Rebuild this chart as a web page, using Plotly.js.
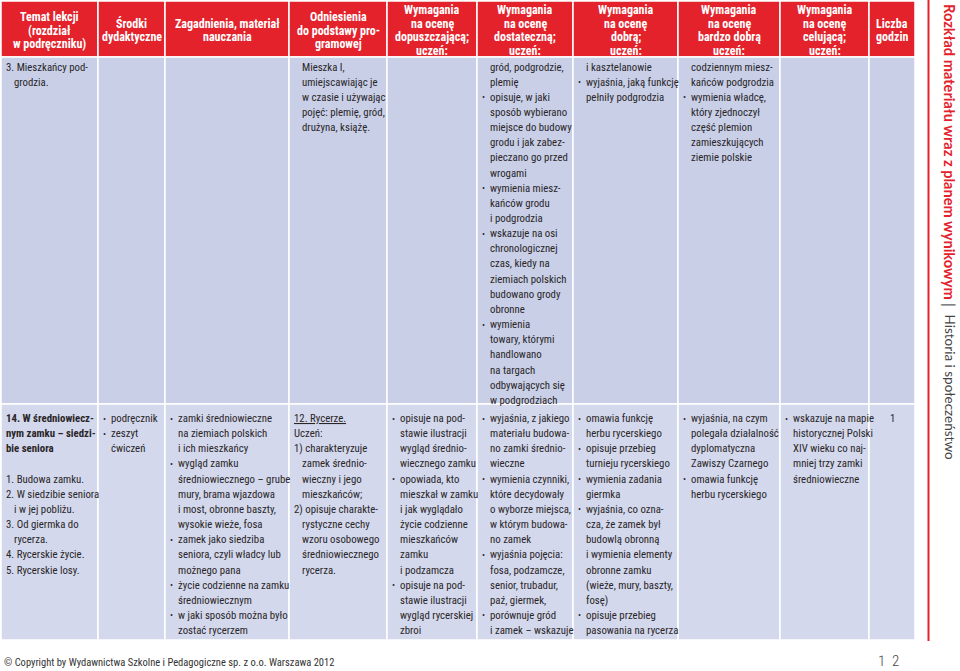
<!DOCTYPE html>
<html><head><meta charset="utf-8"><script src="https://cdn.plot.ly/plotly-3.0.1.min.js"></script></head>
<body style="margin:0;background:#fff">
<div id="c" style="width:960px;height:671px"></div>
<script>
// ---------- content ----------
const headers = [
  ["Temat lekcji","(rozdział","w podręczniku)"],
  ["Środki","dydaktyczne"],
  ["Zagadnienia, materiał","nauczania"],
  ["Odniesienia","do podstawy pro-","gramowej"],
  ["Wymagania","na ocenę","dopuszczającą;","uczeń:"],
  ["Wymagania","na ocenę","dostateczną;","uczeń:"],
  ["Wymagania","na ocenę","dobrą;","uczeń:"],
  ["Wymagania","na ocenę","bardzo dobrą","uczeń:"],
  ["Wymagania","na ocenę","celującą;","uczeń:"],
  ["Liczba","godzin"]
];
// "• " = bullet item, "  " = continuation (hanging indent), "*" = bold, "_" = underlined
const row1 = [
  ["3. Mieszkańcy pod-","  grodzia."],
  [],
  [],
  ["  Mieszka I,","  umiejscawiając je","  w czasie i używając","  pojęć: plemię, gród,","  drużyna, książę."],
  [],
  ["  gród, podgrodzie,","  plemię","• opisuje, w jaki","  sposób wybierano","  miejsce do budowy","  grodu i jak zabez-","  pieczano go przed","  wrogami","• wymienia miesz-","  kańców grodu","  i podgrodzia","• wskazuje na osi","  chronologicznej","  czas, kiedy na","  ziemiach polskich","  budowano grody","  obronne","• wymienia","  towary, którymi","  handlowano","  na targach","  odbywających się","  w podgrodziach"],
  ["  i kasztelanowie","• wyjaśnia, jaką funkcję","  pełniły podgrodzia"],
  ["  codziennym miesz-","  kańców podgrodzia","• wymienia władcę,","  który zjednoczył","  część plemion","  zamieszkujących","  ziemie polskie"],
  [],
  []
];
const row2 = [
  ["*14. W średniowiecz-","*nym zamku – siedzi-","*bie seniora","","1. Budowa zamku.","2. W siedzibie seniora","  i w jej pobliżu.","3. Od giermka do","  rycerza.","4. Rycerskie życie.","5. Rycerskie losy."],
  ["• podręcznik","• zeszyt","  ćwiczeń"],
  ["• zamki średniowieczne","  na ziemiach polskich","  i ich mieszkańcy","• wygląd zamku","  średniowiecznego – grube","  mury, brama wjazdowa","  i most, obronne baszty,","  wysokie wieże, fosa","• zamek jako siedziba","  seniora, czyli władcy lub","  możnego pana","• życie codzienne na zamku","  średniowiecznym","• w jaki sposób można było","  zostać rycerzem"],
  ["_12. Rycerze.","Uczeń:","1) charakteryzuje","  zamek średnio-","  wieczny i jego","  mieszkańców;","2) opisuje charakte-","  rystyczne cechy","  wzoru osobowego","  średniowiecznego","  rycerza."],
  ["• opisuje na pod-","  stawie ilustracji","  wygląd średnio-","  wiecznego zamku","• opowiada, kto","  mieszkał w zamku","  i jak wyglądało","  życie codzienne","  mieszkańców","  zamku","  i podzamcza","• opisuje na pod-","  stawie ilustracji","  wygląd rycerskiej","  zbroi"],
  ["• wyjaśnia, z jakiego","  materiału budowa-","  no zamki średnio-","  wieczne","• wymienia czynniki,","  które decydowały","  o wyborze miejsca,","  w którym budowa-","  no zamek","• wyjaśnia pojęcia:","  fosa, podzamcze,","  senior, trubadur,","  paź, giermek,","• porównuje gród","  i zamek – wskazuje"],
  ["• omawia funkcję","  herbu rycerskiego","• opisuje przebieg","  turnieju rycerskiego","• wymienia zadania","  giermka","• wyjaśnia, co ozna-","  cza, że zamek był","  budowlą obronną","  i wymienia elementy","  obronne zamku","  (wieże, mury, baszty,","  fosę)","• opisuje przebieg","  pasowania na rycerza"],
  ["• wyjaśnia, na czym","  polegała działalność","  dyplomatyczna","  Zawiszy Czarnego","• omawia funkcję","  herbu rycerskiego"],
  ["• wskazuje na mapie","  historycznej Polski","  XIV wieku co naj-","  mniej trzy zamki","  średniowieczne"],
  []
];
const hours = ["", "1"];
const sideTitle = "Rozkład materiału wraz z planem wynikowym";
const sideSubject = "Historia i społeczeństwo";
const footerText = "© Copyright by Wydawnictwa Szkolne i Pedagogiczne sp. z o.o. Warszawa 2012";
const pageNumber = "1\u00a0\u00a02";

// ---------- layout geometry ----------
const colEdges = [1, 98, 165, 289, 387, 477, 573, 678, 780, 869, 915];
const rowEdges = [1, 57, 404, 640];
const rowStart = [67, 418.5];
const LH = 15.15;
const PAD = 3.2, IND = 7.3;
const RED = "#e3222b", BODY1 = "#c8cfe7", BODY2 = "#d3d8ed", TXT = "#2a2627";
const BODYFONT = "Roboto Condensed";
const BODYSIZE = 10.8;

const shapes = [], anns = [];
// header
for (let c = 0; c < headers.length; c++) {
  shapes.push({type:'rect', xref:'x', yref:'y', x0:colEdges[c], x1:colEdges[c+1], y0:rowEdges[0], y1:rowEdges[1], fillcolor:RED, line:{color:'#fff', width:1.5}, layer:'below'});
  const lines = headers[c], n = lines.length, hl = 13.4, mid = 30.5;
  const cx = (colEdges[c] + colEdges[c+1]) / 2;
  lines.forEach((t, i) => anns.push({x:cx, y:mid + (i - (n-1)/2)*hl, xref:'x', yref:'y', xanchor:'center', yanchor:'middle', showarrow:false, text:t, font:{family:BODYFONT, size:12, color:'#fff', weight:700}}));
}
// body rows
[row1, row2].forEach((row, r) => {
  const fill = r === 0 ? BODY1 : BODY2;
  for (let c = 0; c < colEdges.length - 1; c++) {
    shapes.push({type:'rect', xref:'x', yref:'y', x0:colEdges[c], x1:colEdges[c+1], y0:rowEdges[r+1], y1:rowEdges[r+2], fillcolor:fill, line:{color:'#fff', width:1.5}, layer:'below'});
    const cell = row[c] || [];
    cell.forEach((raw, i) => {
      if (!raw) return;
      const y = rowStart[r] + i*LH;
      let x = colEdges[c] + PAD, t = raw, w = 400;
      if (t.startsWith("• ")) {
        anns.push({x:x, y:y, xref:'x', yref:'y', xanchor:'left', yanchor:'middle', showarrow:false, text:"•", font:{family:BODYFONT, size:9, color:TXT}});
        t = t.slice(2); x += IND;
      } else if (t.startsWith("  ")) { t = t.slice(2); x += IND; }
      if (t.startsWith("*")) { t = t.slice(1); w = 700; }
      if (t.startsWith("_")) { t = '<span style="text-decoration:underline">' + t.slice(1) + '</span>'; }
      anns.push({x:x, y:y, xref:'x', yref:'y', xanchor:'left', yanchor:'middle', showarrow:false, text:t, font:{family:BODYFONT, size:BODYSIZE, color:TXT, weight:w}});
    });
  }
  if (hours[r]) {
    const c = colEdges.length - 2;
    anns.push({x:(colEdges[c]+colEdges[c+1])/2, y:rowStart[r], xref:'x', yref:'y', xanchor:'center', yanchor:'middle', showarrow:false, text:hours[r], font:{family:BODYFONT, size:BODYSIZE, color:TXT}});
  }
});
// right side vertical title
shapes.push({type:'line', xref:'x', yref:'y', x0:928.5, x1:928.5, y0:0, y1:641, line:{color:RED, width:2}});
anns.push({x:950, y:2, xref:'x', yref:'y', xanchor:'center', yanchor:'top', showarrow:false, textangle:90,
  text:'<b>' + sideTitle + '</b>', font:{family:'Lato', size:14.6, color:RED}});
anns.push({x:950, y:305, xref:'x', yref:'y', xanchor:'center', yanchor:'middle', showarrow:false, textangle:90,
  text:'|', font:{family:'Lato', size:15, color:'#666'}});
anns.push({x:950, y:312, xref:'x', yref:'y', xanchor:'center', yanchor:'top', showarrow:false, textangle:90,
  text:sideSubject, font:{family:'Lato', size:13.5, color:'#444'}});
// footer
anns.push({x:2, y:662, xref:'x', yref:'y', xanchor:'left', yanchor:'middle', showarrow:false, text:footerText, font:{family:BODYFONT, size:10.5, color:'#333'}});
anns.push({x:888, y:661, xref:'x', yref:'y', xanchor:'center', yanchor:'middle', showarrow:false, text:pageNumber, font:{family:BODYFONT, size:15, color:'#444', weight:300}});

Plotly.newPlot('c', [], {
  width:960, height:671, margin:{l:0, r:0, t:0, b:0}, paper_bgcolor:'#fff', plot_bgcolor:'#fff',
  xaxis:{range:[0,960], visible:false, fixedrange:true},
  yaxis:{range:[671,0], visible:false, fixedrange:true},
  shapes:shapes, annotations:anns, showlegend:false
}, {displayModeBar:false, staticPlot:true});
</script></body></html>
